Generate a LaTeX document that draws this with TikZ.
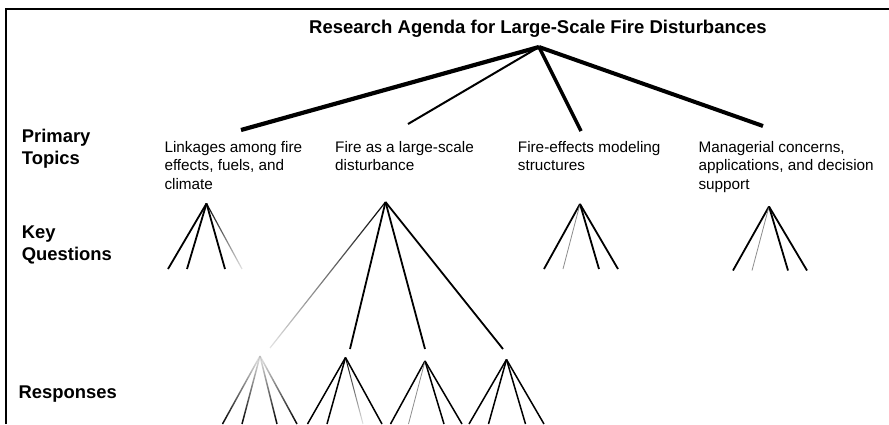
\documentclass[tikz,border=0pt]{standalone}
\usepackage{fontspec}
\setmainfont{Liberation Sans}
\usetikzlibrary{fadings}
\tikzfading[name=fade down, top color=transparent!0, bottom color=transparent!90]
\tikzfading[name=fade up, top color=transparent!92, bottom color=transparent!0]

\begin{document}
\begin{tikzpicture}[x=1pt,y=-1pt,
  title/.style={font=\fontsize{18.5}{22}\selectfont\bfseries, anchor=base, inner sep=0pt},
  rowlabel/.style={font=\fontsize{18.4}{21.6}\selectfont\bfseries, anchor=base west, inner sep=0pt, align=left},
  topic/.style={font=\fontsize{15.3}{18.7}\selectfont, anchor=base west, inner sep=0pt, align=left},
  frame/.style={line width=1.8pt, line join=miter},
  trunk/.style={line width=#1, line cap=butt},
  kq/.style={line width=1.8pt},
  resp/.style={line width=1.5pt},
  faint/.style={line width=0.8pt, black!45},
  fadeout/.style={line width=1.2pt, path fading=fade down},
  fadein/.style={line width=1.5pt, path fading=fade up}
]
\useasboundingbox (0,0) rectangle (889,424);

% open frame along the top and left
\draw[frame] (6,424) -- (6,9) -- (889,9);

% title and its branching point
\node[title] (head) at (538,33) {Research Agenda for Large-Scale Fire Disturbances};
\coordinate (top) at (539,47);

% row labels (multi-line nodes sit on the baseline of their last line)
\node[rowlabel] (lprim) at (21.7,164.1) {Primary\\Topics};
\node[rowlabel] (lkey) at (21.7,260.1) {Key\\Questions};
\node[rowlabel] (lresp) at (18.5,398) {Responses};

% primary topics
\node[topic] (p1) at (164.3,189.4) {Linkages among fire\\effects, fuels, and\\climate};
\node[topic] (p2) at (335,170.7) {Fire as a large-scale\\disturbance};
\node[topic] (p3) at (517.7,170.7) {Fire-effects modeling\\structures};
\node[topic] (p4) at (698.3,189.4) {Managerial concerns,\\applications, and decision\\support};

% ends of the trunk lines above each topic
\coordinate (p1t) at (241,130);
\coordinate (p2t) at (408,124);
\coordinate (p3t) at (581,131);
\coordinate (p4t) at (763,126);

\draw[trunk=4.2pt] (top) -- (p1t);
\draw[trunk=2pt]   (top) -- (p2t);
\draw[trunk=3.5pt] (top) -- (p3t);
\draw[trunk=4pt]   (top) -- (p4t);

% key-question fans
\coordinate (k1) at (206.5,203.5);
\coordinate (k2) at (385.5,202);
\coordinate (k3) at (580,204);
\coordinate (k4) at (769,206.5);

\foreach \i/\x in {1/168,2/187,3/225,4/242} \coordinate (k1e\i) at (\x,269);
\foreach \i/\x in {1/544,2/563,3/599,4/618} \coordinate (k3e\i) at (\x,269);
\foreach \i/\x in {1/733,2/752,3/788,4/807} \coordinate (k4e\i) at (\x,270.5);
\coordinate (k2e1) at (270,348);
\coordinate (k2e2) at (350,349);
\coordinate (k2e3) at (425,349);
\coordinate (k2e4) at (503,349);

\draw[kq] (k1) -- (k1e1);
\draw[kq] (k1) -- (k1e2);
\draw[kq] (k1) -- (k1e3);
\draw[fadeout] (k1) -- (k1e4);

\draw[fadeout] (k2) -- (k2e1);
\draw[kq] (k2) -- (k2e2);
\draw[kq] (k2) -- (k2e3);
\draw[kq] (k2) -- (k2e4);

\draw[kq] (k3) -- (k3e1);
\draw[faint] (k3) -- (k3e2);
\draw[kq] (k3) -- (k3e3);
\draw[kq] (k3) -- (k3e4);

\draw[kq] (k4) -- (k4e1);
\draw[faint] (k4) -- (k4e2);
\draw[kq] (k4) -- (k4e3);
\draw[kq] (k4) -- (k4e4);

% response fans
\coordinate (r1) at (260,356);
\coordinate (r2) at (345.5,357.5);
\coordinate (r3) at (425,361);
\coordinate (r4) at (506.5,359.5);

\foreach \i/\x in {1/222.5,2/242,3/277,4/297} \coordinate (r1e\i) at (\x,424);
\foreach \i/\x in {1/307.5,2/327,3/363,4/382} \coordinate (r2e\i) at (\x,424);
\foreach \i/\x in {1/390.5,2/408.5,3/444,4/462} \coordinate (r3e\i) at (\x,424);
\foreach \i/\x in {1/469,2/488.5,3/525.5,4/544} \coordinate (r4e\i) at (\x,424);

\foreach \i in {1,...,4} \draw[fadein] (r1) -- (r1e\i);

\draw[resp] (r2) -- (r2e1);
\draw[resp] (r2) -- (r2e2);
\draw[fadeout, line width=1pt] (r2) -- (r2e3);
\draw[resp] (r2) -- (r2e4);

\draw[resp] (r3) -- (r3e1);
\draw[faint] (r3) -- (r3e2);
\draw[resp] (r3) -- (r3e3);
\draw[resp] (r3) -- (r3e4);

\foreach \i in {1,...,4} \draw[resp] (r4) -- (r4e\i);
\end{tikzpicture}
\end{document}
